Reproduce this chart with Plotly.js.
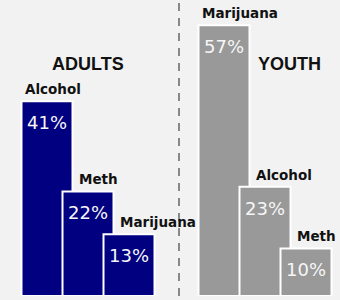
<!DOCTYPE html>
<html>
<head>
<meta charset="utf-8">
<script src="https://cdn.plot.ly/plotly-3.0.1.min.js"></script>
<style>html,body{margin:0;padding:0;background:#f2f2f2;}</style>
</head>
<body>
<div id="chart" style="width:340px;height:300px;"></div>
<script>
// Data
const groups = ["ADULTS", "YOUTH"];
const adultCategories = ["Alcohol", "Meth", "Marijuana"];
const adultValues = [41, 22, 13];
const youthCategories = ["Marijuana", "Alcohol", "Meth"];
const youthValues = [57, 23, 10];

// Layout constants (pixel-like x units)
const groupStart = [47, 224];
const step = 41;
const barWidth = 51;
const colors = ["#000080", "#999999"];

const allCats = [adultCategories, youthCategories];
const allVals = [adultValues, youthValues];

const traces = [];
const annotations = [];
allCats.forEach((cats, g) => {
  const xs = cats.map((c, i) => groupStart[g] + i * step);
  const vals = allVals[g];
  traces.push({
    type: "bar",
    x: xs,
    y: vals,
    width: barWidth,
    marker: { color: colors[g], line: { color: "#ffffff", width: 2 } },
    hoverinfo: "none",
    showlegend: false
  });
  cats.forEach((c, i) => {
    // value label inside bar
    annotations.push({
      x: xs[i], y: vals[i], xref: "x", yref: "y",
      text: vals[i] + "%", showarrow: false,
      xanchor: "center", yanchor: "top", yshift: -9,
      font: { family: "DejaVu Sans", size: 18, color: "#f6f6f6" }
    });
    // category label above bar
    const lx = i === 0 ? xs[i] - barWidth / 2 + 1 : xs[i - 1] + barWidth / 2 + 4;
    annotations.push({
      x: lx, y: vals[i], xref: "x", yref: "y",
      text: "<b>" + c + "</b>", showarrow: false,
      xanchor: "left", yanchor: "bottom", yshift: 2,
      font: { family: "DejaVu Sans", size: 13.5, color: "#111111" }
    });
  });
});

// group titles
const titleX = [87.5, 289.5];
groups.forEach((t, g) => {
  annotations.push({
    x: titleX[g], y: 0.785, xref: "x", yref: "paper",
    text: "<b>" + t + "</b>", showarrow: false,
    xanchor: "center", yanchor: "middle",
    font: { family: "Liberation Sans, Arial", size: 18, color: "#111111" }
  });
});

const layout = {
  width: 340, height: 300,
  margin: { l: 0, r: 0, t: 0, b: 4, pad: 0 },
  paper_bgcolor: "#f2f2f2",
  plot_bgcolor: "#f2f2f2",
  barmode: "overlay",
  xaxis: { range: [0, 340], visible: false, fixedrange: true },
  yaxis: { range: [0, 62.3], visible: false, fixedrange: true },
  annotations: annotations,
  shapes: [{
    type: "line", xref: "x", yref: "paper",
    x0: 179, x1: 179, y0: 0, y1: 1,
    line: { color: "#888888", width: 2, dash: "8px,7px" }
  }]
};

Plotly.newPlot("chart", traces, layout, { displayModeBar: false, staticPlot: true });
</script>
</body>
</html>
